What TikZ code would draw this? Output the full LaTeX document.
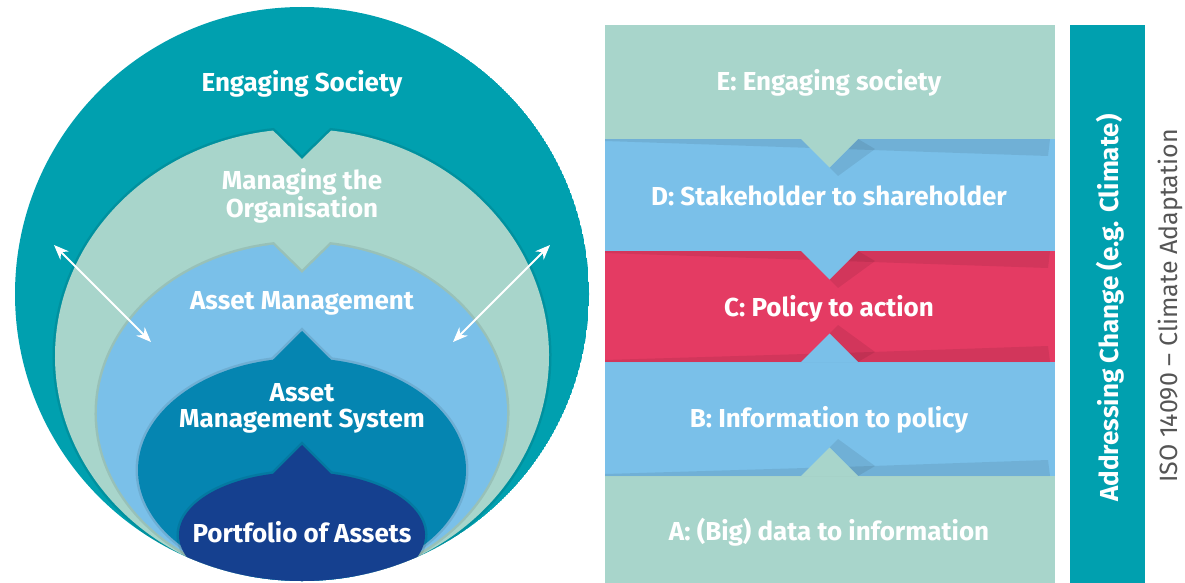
\documentclass[tikz,border=0pt]{standalone}
\usepackage{fontspec}
\setmainfont{Fira Sans}
\usetikzlibrary{arrows.meta,positioning}
\definecolor{seaTeal}{HTML}{00A0AF}
\definecolor{mint}{HTML}{A8D5CB}
\definecolor{sky}{HTML}{7AC0E9}
\definecolor{ocean}{HTML}{0585B1}
\definecolor{navy}{HTML}{15408F}
\definecolor{rose}{HTML}{E43B63}
\definecolor{isoGray}{HTML}{555555}

\begin{document}
\begin{tikzpicture}[
    x=1pt, y=-1pt,
    layer/.style={preaction={draw=black, draw opacity=0.09, line width=5pt}},
    ringtext/.style={text=white, font=\bfseries\fontsize{26}{26}\selectfont, align=center, inner sep=0pt},
    bandtext/.style={text=white, font=\bfseries\fontsize{26}{26}\selectfont, inner sep=0pt},
    dimmer/.style={fill=black, fill opacity=0.08},
    twoway/.style={{Stealth[length=15pt, width=12pt, inset=5pt]}-{Stealth[length=15pt, width=12pt, inset=5pt]}, draw=white, line width=1.8pt}
]
    \useasboundingbox (0,0) rectangle (1185,583);

    % nested rings
    \begin{scope}
        \clip (302,294) circle[radius=287];
        \fill[seaTeal] (302,294) circle[radius=287];
        \fill[mint, layer] (302,356) ++(-83.26:247 and 227)
            arc[start angle=-83.26, end angle=263.26, x radius=247, y radius=227] -- (302,159) -- cycle;
        \fill[sky, layer] (302,413) ++(-81.87:205 and 170)
            arc[start angle=-81.87, end angle=261.87, x radius=205, y radius=170] -- (302,273) -- cycle;
        \fill[ocean, layer] (302,470) ++(-79.8:164 and 112)
            arc[start angle=-79.8, end angle=259.8, x radius=164, y radius=112] -- (302,331) -- cycle;
        \fill[navy, layer] (302,535) ++(-76.36:123 and 63)
            arc[start angle=-76.36, end angle=256.36, x radius=123, y radius=63] -- (302,445) -- cycle;
    \end{scope}

    \node[ringtext] (society) at (302,84) {Engaging Society};
    \node[ringtext] (organisation) at (302,196) {Managing the\\Organisation};
    \node[ringtext] (am) at (302,303) {Asset Management};
    \node[ringtext] (ams) at (302,408) {Asset\\Management System};
    \node[ringtext] (portfolio) at (302,532) {Portfolio of Assets};

    \coordinate (nwOut) at (54,245);
    \coordinate (nwIn) at (151,342);
    \coordinate (neOut) at (550,245);
    \coordinate (neIn) at (453,342);
    \draw[twoway] (nwOut) -- (nwIn);
    \draw[twoway] (neOut) -- (neIn);

    % stacked bands
    \fill[mint] (605,25) rectangle (1055,139);
    \fill[sky] (605,139) rectangle (1055,251);
    \fill[rose] (605,251) rectangle (1055,362);
    \fill[sky] (605,362) rectangle (1055,476);
    \fill[mint] (605,476) rectangle (1055,583);

    % shadows under the tips
    \foreach \y in {139,251} {
        \fill[dimmer] (605,\y) -- (1050,\y) -- (1048,\y+17) -- (872,\y+11) -- (605,\y+2) -- cycle;
        \fill[dimmer] (858,\y) -- (875,\y+10) -- (838,\y+37) -- (829.5,\y+28.5) -- cycle;
    }
    \foreach \y in {362,476} {
        \fill[dimmer] (605,\y) -- (1050,\y) -- (1048,\y-16) -- (872,\y-10) -- (605,\y-2) -- cycle;
        \fill[dimmer] (858,\y) -- (875,\y-10) -- (838,\y-37) -- (829.5,\y-28.5) -- cycle;
    }

    % tips
    \fill[mint] (801,139) -- (858,139) -- (829.5,167.5) -- cycle;
    \fill[sky] (801,251) -- (858,251) -- (829.5,279.5) -- cycle;
    \fill[sky] (801,362) -- (858,362) -- (829.5,333.5) -- cycle;
    \fill[mint] (801,476) -- (858,476) -- (829.5,447.5) -- cycle;

    \node[bandtext] (bandE) at (829,83) {E: Engaging society};
    \node[bandtext] (bandD) at (829,196) {D: Stakeholder to shareholder};
    \node[bandtext] (bandC) at (829,309) {C: Policy to action};
    \node[bandtext] (bandB) at (829,420) {B: Information to policy};
    \node[bandtext] (bandA) at (829,532) {A: (Big) data to information};

    % side bar
    \fill[seaTeal] (1070,25) rectangle (1145,583);
    \node[bandtext, rotate=90] (change) at (1110,308) {Addressing Change (e.g. Climate)};
    \node[text=isoGray, font=\fontsize{25}{26}\selectfont, rotate=90, inner sep=0pt] (iso) at (1170,306) {ISO 14090 -- Climate Adaptation};
\end{tikzpicture}
\end{document}
